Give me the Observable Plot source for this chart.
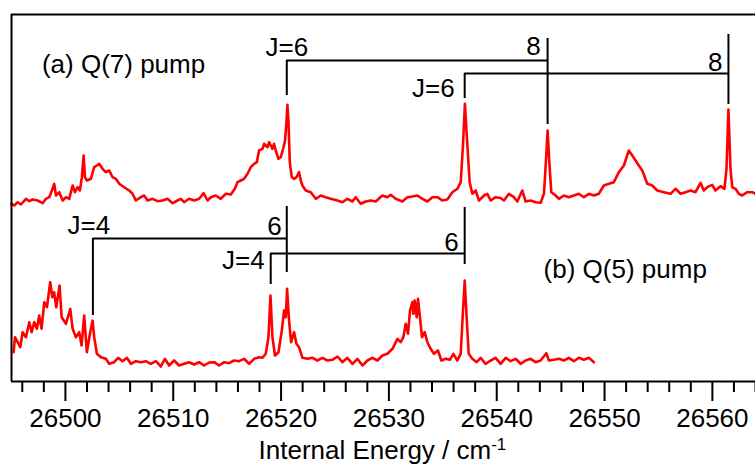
<!DOCTYPE html>
<html>
<head>
<meta charset="utf-8">
<script src="https://cdn.jsdelivr.net/npm/d3@7"></script>
<script src="https://cdn.jsdelivr.net/npm/@observablehq/plot@0.6"></script>
<style>
  html, body { margin: 0; padding: 0; background: white; overflow: hidden; }
</style>
</head>
<body>
<script>
// Spectrum (a) Q(7) pump : energy (cm-1) and signal (arb. units, offset)
const aEnergy = [26495.00,26495.25,26495.57,26495.88,26496.34,26496.65,26496.96,26497.42,26497.89,26498.19,26498.50,26498.81,26498.96,26499.12,26499.43,26499.74,26500.05,26500.35,26500.67,26500.88,26501.13,26501.34,26501.53,26501.69,26501.81,26501.99,26502.36,26502.67,26502.92,26503.13,26503.45,26503.75,26504.06,26504.37,26504.68,26504.99,26505.45,26505.91,26506.23,26506.53,26507.00,26507.30,26507.62,26508.08,26508.55,26509.01,26509.47,26509.94,26510.40,26510.70,26511.01,26511.47,26511.94,26512.40,26512.81,26513.18,26513.49,26513.95,26514.41,26514.88,26515.34,26515.71,26515.96,26516.27,26516.57,26516.89,26517.19,26517.50,26517.75,26517.96,26518.28,26518.42,26518.74,26518.89,26519.20,26519.35,26519.51,26519.76,26519.97,26520.19,26520.37,26520.50,26520.59,26520.69,26520.81,26520.99,26521.21,26521.43,26521.67,26521.83,26521.98,26522.29,26522.75,26523.22,26523.68,26524.14,26524.61,26525.23,26525.69,26526.15,26526.62,26526.92,26527.39,26527.85,26528.31,26528.78,26529.40,26529.86,26530.17,26530.63,26531.25,26531.72,26532.18,26532.64,26533.11,26533.57,26534.03,26534.50,26534.96,26535.42,26535.89,26536.35,26536.66,26536.87,26537.05,26537.28,26537.49,26537.74,26538.05,26538.35,26538.82,26539.13,26539.44,26539.90,26540.36,26540.67,26541.13,26541.60,26541.91,26542.37,26542.68,26543.14,26543.61,26544.07,26544.38,26544.56,26544.72,26544.88,26545.06,26545.46,26545.77,26546.23,26546.69,26547.16,26547.62,26548.08,26548.55,26549.01,26549.47,26549.94,26550.40,26550.86,26551.33,26551.79,26552.25,26552.57,26552.88,26553.18,26553.50,26553.96,26554.42,26554.89,26555.50,26556.12,26556.58,26557.05,26557.51,26557.97,26558.44,26558.90,26559.20,26559.52,26559.98,26560.29,26560.75,26561.12,26561.31,26561.49,26561.68,26561.84,26562.14,26562.45,26562.76,26563.23,26563.69,26564.00];
const aSignal = [177.7,176,179.3,177,182.7,180.3,182,181,178.3,182.7,184.3,192.7,197.7,186,189.3,181,184.3,182.7,196,189.3,194.3,191,204.3,226,204.3,201,202.7,214.3,216,217.7,212.7,209.3,211,204.3,202.7,197.7,194.3,191,187.7,181,184.3,186,181,182.7,180.3,181,182.7,178.3,181,182.7,179.3,182.7,181,182.7,188.3,181,184.3,186,182.7,187.7,187,192.7,199.3,201,202.7,207.7,214.3,217.7,219.3,231,232.7,237.7,234.3,239.3,232.7,237.7,231,222.7,224.3,232.7,241,259.3,276.7,259.3,219.3,204.3,202.7,204.3,209.3,201,196,191,189.3,182.7,186,184.3,182.7,181,179.3,182.7,180,184.3,177.7,180,181,180,186,184.3,186.7,182.7,180,184.3,185,186,182.7,180,184.3,184.3,181,182,189.3,192.7,199.3,236,277.7,236,199.3,187.7,191,181,186,187.7,181,184.3,183.5,181,187.7,184.3,180,191,180,181,179.3,178.7,187.7,219.3,251,219.3,189.3,186,182.7,186,184.3,186,187.7,184.3,187.7,186,187.7,196,197.7,199.3,209.3,216,231,226,221,216,211,197.7,196,191,189.3,187.7,192.7,187.7,189.3,191,189.3,198.7,191,194.3,196.7,191,195.3,192.7,212.7,272,212.7,194.3,192.7,187.7,186,189.3,189.3,187.7];

// Spectrum (b) Q(5) pump
const bEnergy = [26495.20,26495.32,26495.57,26495.81,26496.03,26496.34,26496.65,26496.87,26497.11,26497.36,26497.57,26497.79,26498.04,26498.29,26498.59,26498.78,26498.96,26499.15,26499.46,26499.65,26500.05,26500.45,26500.67,26500.97,26501.28,26501.50,26501.74,26501.99,26502.30,26502.52,26502.67,26502.92,26503.29,26503.75,26504.06,26504.52,26504.89,26505.30,26505.70,26506.07,26506.53,26507.00,26507.46,26507.92,26508.39,26508.85,26509.22,26509.62,26510.08,26510.55,26511.01,26511.47,26511.94,26512.40,26512.86,26513.33,26513.79,26514.25,26514.72,26515.18,26515.64,26516.11,26516.57,26517.04,26517.50,26517.96,26518.28,26518.58,26518.83,26519.02,26519.20,26519.44,26519.76,26520.07,26520.28,26520.44,26520.56,26520.74,26520.93,26521.21,26521.43,26521.67,26521.98,26522.45,26522.91,26523.37,26523.84,26524.30,26524.76,26525.23,26525.69,26526.15,26526.62,26527.08,26527.55,26528.01,26528.47,26528.94,26529.40,26529.86,26530.33,26530.79,26531.09,26531.34,26531.56,26531.77,26531.96,26532.18,26532.27,26532.39,26532.58,26532.70,26532.88,26533.07,26533.32,26533.57,26533.87,26534.18,26534.55,26534.87,26535.27,26535.66,26535.98,26536.35,26536.66,26536.84,26537.03,26537.21,26537.40,26537.74,26538.14,26538.51,26538.97,26539.44,26539.90,26540.36,26540.83,26541.29,26541.75,26542.22,26542.68,26543.14,26543.61,26544.07,26544.60,26544.84,26545.30,26545.77,26546.23,26546.69,26547.16,26547.62,26548.08,26548.55,26549.01];
const bSignal = [29.3,44.3,39.3,34.3,49.3,44.3,59.3,49.3,59.3,52.7,66,52.7,79.3,74.3,99.3,84.3,89.3,74.3,96,64.3,57.7,72.7,52.7,44.3,49.3,36,66,29.3,49.3,61,44.3,27.7,24.3,22.7,17.7,19.3,23.7,20.3,23.7,17.7,20.3,19.3,20.3,17.7,20.3,15,22.7,16,21,16,17.7,19.3,17,19.3,16,19,19.3,16,19.3,18.3,21,20.3,22.7,17.7,22.7,24.3,23.7,27.7,44.3,86,44.3,26,29.3,51,71,64.3,92.7,61,39.3,49.3,37.7,34.3,23.7,22.7,23.7,21,23.7,21,21.7,25,19.3,23.7,17.7,22.7,16,21,23.7,21,26,27.7,32.7,42.7,39.3,44.3,57.7,47.7,71,79.3,67.7,81,64.3,82.7,64.3,44.3,49.3,39.3,32.7,27.7,31,21,22.7,21.7,27.7,21,27.7,64.3,101,64.3,27.7,22.7,19.3,23.7,17.7,21,23.7,17.7,23.7,20.3,22.7,17.7,21,22.7,19.3,21,28.3,21,21.7,22.7,21,23.7,20.3,23.7,21.7,23.7,19.3];

// Axis ticks
const majorTicks = [26500, 26510, 26520, 26530, 26540, 26550, 26560];
const minorTicks = d3.range(26496, 26565, 2).filter(v => v % 10 !== 0);

// Assignment brackets (energies in cm-1, heights in the same arb. units)
const brackets = [
  {left: 26520.53, right: 26544.72, level: 321, leftLow: 286, rightTop: 343, rightLow: 257},
  {left: 26537.03, right: 26561.49, level: 308, leftLow: 283, rightTop: 347, rightLow: 277},
  {left: 26502.55, right: 26520.53, level: 143, leftLow: 66,  rightTop: 175, rightLow: 109},
  {left: 26519.04, right: 26537.03, level: 128, leftLow: 97,  rightTop: 174, rightLow: 117}
];
const bracketLabels = [
  {x: 26520.53, y: 334, text: "J=6", anchor: "middle", dx: 0},
  {x: 26544.72, y: 335, text: "8",   anchor: "end", dx: -7},
  {x: 26537.03, y: 293, text: "J=6", anchor: "end", dx: -10},
  {x: 26561.49, y: 319, text: "8",   anchor: "end", dx: -6},
  {x: 26502.55, y: 156, text: "J=4", anchor: "middle", dx: -4},
  {x: 26520.53, y: 155, text: "6",   anchor: "end", dx: -5},
  {x: 26519.04, y: 121, text: "J=4", anchor: "end", dx: -6},
  {x: 26537.03, y: 139, text: "6",   anchor: "end", dx: -6}
];
const panelLabels = [
  {x: 26497.82, y: 316.5, text: "(a) Q(7) pump"},
  {x: 26544.35, y: 111.5, text: "(b) Q(5) pump"}
];
const xTitle = [{x: 26529.4, text: "Internal Energy / cm-1"}];

const specA = aEnergy.map((e, i) => ({e, s: aSignal[i]}));
const specB = bEnergy.map((e, i) => ({e, s: bSignal[i]}));

const FS = 26;
const chart = Plot.plot({
  width: 755,
  height: 464,
  marginLeft: 11,
  marginRight: 0,
  marginTop: 14,
  marginBottom: 83,
  style: {fontFamily: "'Liberation Sans', Arial, sans-serif", fontSize: FS + "px", background: "white", color: "black"},
  x: {domain: [26495, 26564], axis: null},
  y: {domain: [0, 367], axis: null},
  marks: [
    Plot.line(specA, {x: "e", y: "s", stroke: "#ff0000", strokeWidth: 2.6, strokeLinejoin: "round"}),
    Plot.line(specB, {x: "e", y: "s", stroke: "#ff0000", strokeWidth: 2.6, strokeLinejoin: "round"}),
    Plot.ruleY(brackets, {y: "level", x1: "left", x2: "right", stroke: "black", strokeWidth: 2}),
    Plot.ruleX(brackets, {x: "left", y1: "level", y2: "leftLow", stroke: "black", strokeWidth: 2}),
    Plot.ruleX(brackets, {x: "right", y1: "rightTop", y2: "rightLow", stroke: "black", strokeWidth: 2}),
    ...bracketLabels.map(l => Plot.text([l], {x: "x", y: "y", text: "text", textAnchor: l.anchor, dx: l.dx, fontSize: FS, fill: "black"})),
    Plot.text(panelLabels, {x: "x", y: "y", text: "text", textAnchor: "start", fontSize: FS, fill: "black"}),
    Plot.ruleY([0], {stroke: "black", strokeWidth: 2}),
    Plot.ruleY([367], {stroke: "black", strokeWidth: 2}),
    Plot.ruleX([26495], {stroke: "black", strokeWidth: 2}),
    Plot.axisX({ticks: majorTicks, tickSize: 20, tickPadding: 7, tickFormat: d => String(d), fontSize: FS, strokeWidth: 2, label: null}),
    Plot.axisX({ticks: minorTicks, tickSize: 11, tickFormat: () => "", strokeWidth: 2, label: null}),
    Plot.text(xTitle, {x: "x", text: "text", frameAnchor: "bottom", lineAnchor: "bottom", dy: 77, fontSize: FS, fill: "black", textAnchor: "middle"})
  ]
});
document.body.appendChild(chart);

// superscript for cm-1
chart.querySelectorAll("text").forEach(t => {
  if (t.textContent === "Internal Energy / cm-1") {
    t.textContent = "Internal Energy / cm";
    const sup = document.createElementNS("http://www.w3.org/2000/svg", "tspan");
    sup.setAttribute("dy", "-9");
    sup.setAttribute("font-size", "17px");
    sup.textContent = "-1";
    t.appendChild(sup);
  }
});
</script>
</body>
</html>
